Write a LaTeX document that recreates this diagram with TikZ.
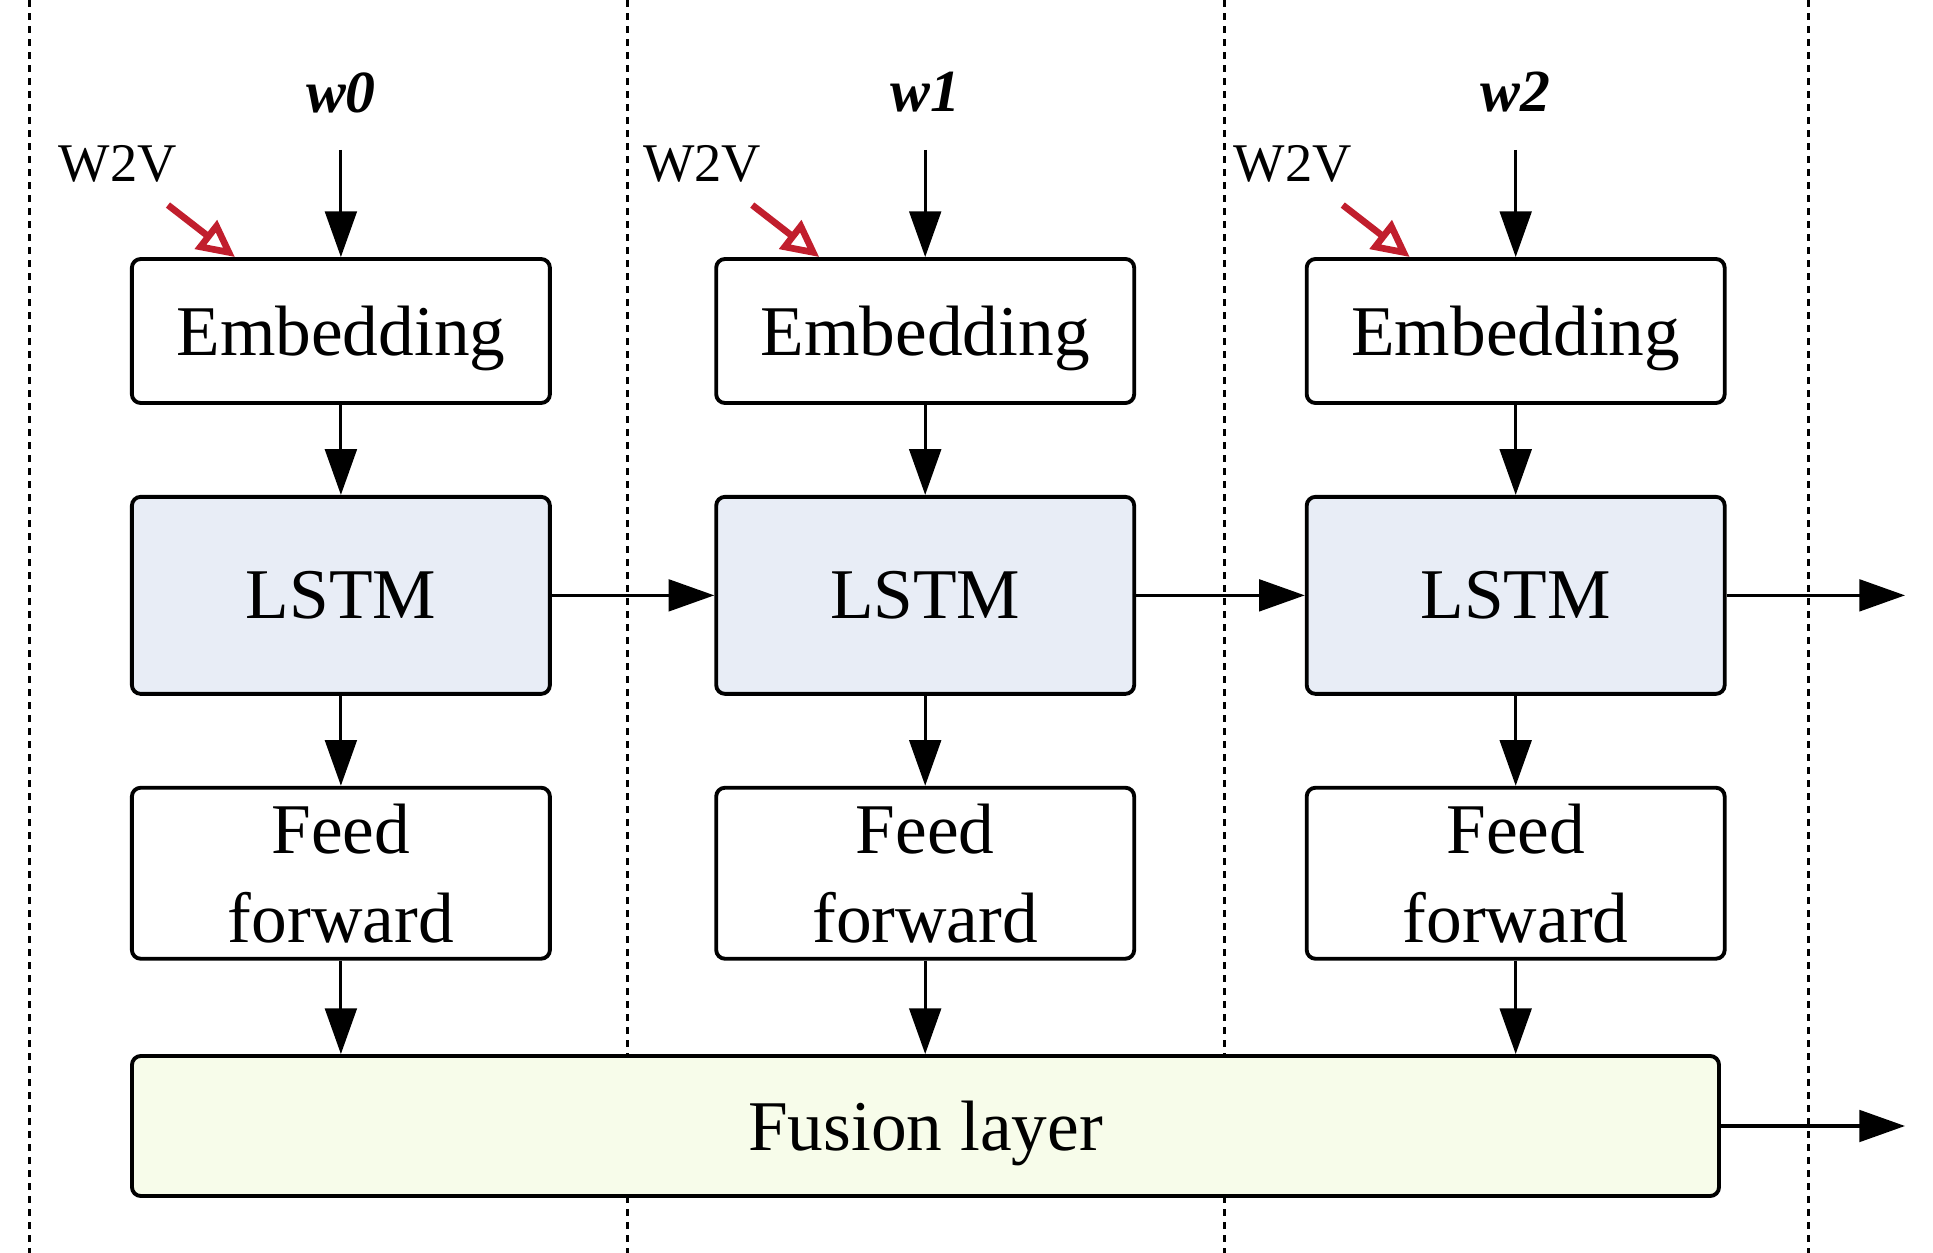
\documentclass[tikz,border=0pt]{standalone}
\usepackage{fontspec}
\setmainfont{Liberation Serif}
\usetikzlibrary{arrows.meta,positioning,calc}
\definecolor{lstmBlue}{RGB}{232,237,246}
\definecolor{fusionGreen}{RGB}{247,252,234}
\definecolor{w2vRed}{RGB}{193,30,45}

\begin{document}
\begin{tikzpicture}[
    blk/.style={
        rectangle, draw=black, line width=1.1pt, fill=white,
        rounded corners=2.5pt, inner sep=0pt, minimum width=4.18cm,
        text depth=0pt, align=center, font=\fontsize{20.3}{25.5}\selectfont
    },
    embbox/.style={blk, minimum height=1.44cm},
    lstmbox/.style={blk, fill=lstmBlue, minimum height=1.97cm},
    ffbox/.style={blk, minimum height=1.71cm},
    word/.style={font=\fontsize{17}{20}\selectfont\bfseries\itshape},
    w2v/.style={font=\fontsize{15.5}{18}\selectfont, inner sep=0pt},
    arr/.style={-{Triangle[length=13pt, width=9pt]}, line width=0.9pt, draw=black},
    redarr/.style={-{Triangle[open, length=10.5pt, width=10pt]}, line width=1.9pt, draw=w2vRed},
    sep/.style={line width=0.9pt, dash pattern=on 2pt off 1.7pt}
]
    \useasboundingbox (0,0) rectangle (19.33,-12.53);

    % Time step separators
    \draw [sep] (0.296,0) -- (0.296,-12.53);
    \draw [sep] (6.275,0) -- (6.275,-12.53);
    \draw [sep] (12.242,0) -- (12.242,-12.53);
    \draw [sep] (18.085,0) -- (18.085,-12.53);

    % Step 0
    \node [word] (w0) at (3.409,-0.925) {w0};
    \node [embbox] (emb0) at (3.409,-3.31) {Embedding};
    \node [lstmbox, below=0.90cm of emb0] (lstm0) {LSTM};
    \node [ffbox, below=0.90cm of lstm0] (ff0) {Feed\\forward};
    \coordinate (win0) at (3.409,-1.50);
    \node [w2v] (w2v0) at ($(emb0.north west)+(-0.12,0.93)$) {W2V};
    \coordinate (w2vin0) at ($(emb0.north west)+(0.38,0.52)$);

    % Step 1
    \node [word] (w1) at (9.252,-0.925) {w1};
    \node [embbox] (emb1) at (9.252,-3.31) {Embedding};
    \node [lstmbox, below=0.90cm of emb1] (lstm1) {LSTM};
    \node [ffbox, below=0.90cm of lstm1] (ff1) {Feed\\forward};
    \coordinate (win1) at (9.252,-1.50);
    \node [w2v] (w2v1) at ($(emb1.north west)+(-0.12,0.93)$) {W2V};
    \coordinate (w2vin1) at ($(emb1.north west)+(0.38,0.52)$);

    % Step 2
    \node [word] (w2) at (15.157,-0.925) {w2};
    \node [embbox] (emb2) at (15.157,-3.31) {Embedding};
    \node [lstmbox, below=0.90cm of emb2] (lstm2) {LSTM};
    \node [ffbox, below=0.90cm of lstm2] (ff2) {Feed\\forward};
    \coordinate (win2) at (15.157,-1.50);
    \node [w2v] (w2v2) at ($(emb2.north west)+(-0.12,0.93)$) {W2V};
    \coordinate (w2vin2) at ($(emb2.north west)+(0.38,0.52)$);

    % Fusion layer across all steps
    \node [blk, fill=fusionGreen, minimum width=15.87cm, minimum height=1.40cm] (fusion) at (9.255,-11.26) {Fusion layer};

    % Outgoing ends
    \coordinate (lout) at (19.05,0 |- lstm2.east);
    \coordinate (fout) at (19.05,0 |- fusion.east);

    % Vertical flow
    \draw [arr] (win0) -- (emb0.north);
    \draw [arr] (win1) -- (emb1.north);
    \draw [arr] (win2) -- (emb2.north);
    \draw [arr] (emb0) -- (lstm0);
    \draw [arr] (emb1) -- (lstm1);
    \draw [arr] (emb2) -- (lstm2);
    \draw [arr] (lstm0) -- (ff0);
    \draw [arr] (lstm1) -- (ff1);
    \draw [arr] (lstm2) -- (ff2);
    \draw [arr] (ff0.south) -- (ff0.south |- fusion.north);
    \draw [arr] (ff1.south) -- (ff1.south |- fusion.north);
    \draw [arr] (ff2.south) -- (ff2.south |- fusion.north);

    % Recurrent links
    \draw [arr] (lstm0) -- (lstm1);
    \draw [arr] (lstm1) -- (lstm2);
    \draw [arr] (lstm2.east) -- (lout);
    \draw [arr] (fusion.east) -- (fout);

    % Pretrained word vectors
    \draw [redarr] (w2vin0) -- ($(emb0.north west)+(1.05,0)$);
    \draw [redarr] (w2vin1) -- ($(emb1.north west)+(1.05,0)$);
    \draw [redarr] (w2vin2) -- ($(emb2.north west)+(1.05,0)$);

\end{tikzpicture}
\end{document}
